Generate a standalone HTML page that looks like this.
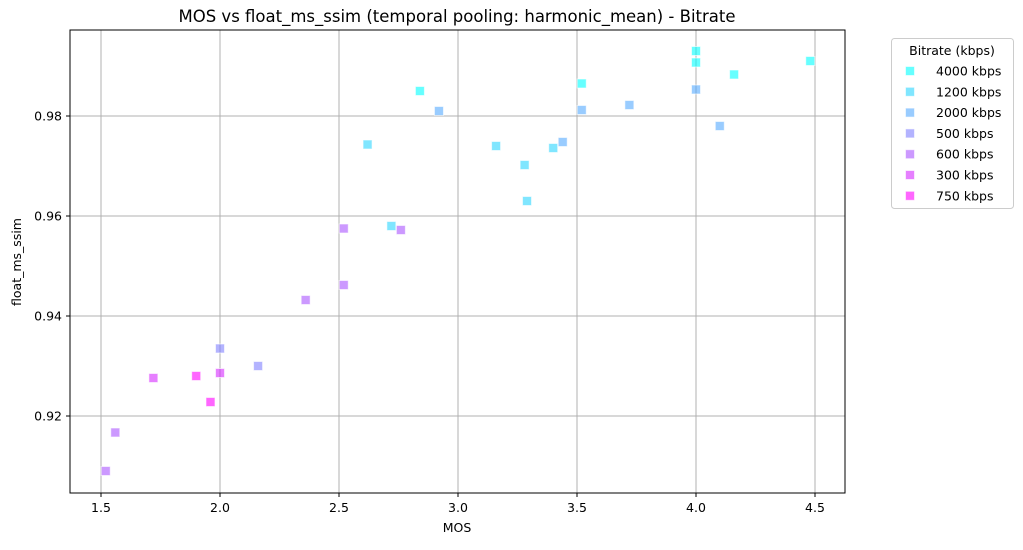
<!DOCTYPE html>
<html><head><meta charset="utf-8"><style>body{margin:0;background:#fff}svg{font-family:"DejaVu Sans","Liberation Sans",sans-serif}</style></head>
<body>
<svg id="chart" width="1023" height="545">
<text x="457" y="22" text-anchor="middle" font-size="16.5">MOS vs float_ms_ssim (temporal pooling: harmonic_mean) - Bitrate</text>
<g id="grid"></g><g id="pts"></g>
<rect x="70" y="30" width="775" height="463" fill="none" stroke="#000" stroke-width="1"/>
<g id="ticks" font-size="12.5"></g>
<text x="457" y="532" text-anchor="middle" font-size="12.5">MOS</text>
<text transform="translate(21,262) rotate(-90)" text-anchor="middle" font-size="12.5">float_ms_ssim</text>
<g id="legend"></g>
</svg>
<script>
const seriesNames=["4000 kbps","1200 kbps","2000 kbps","500 kbps","600 kbps","300 kbps","750 kbps"];
const s4000=[[2.84,0.985],[3.52,0.9865],[4.0,0.993],[4.0,0.9907],[4.16,0.9883],[4.48,0.991]];
const s1200=[[2.62,0.9743],[3.16,0.974],[3.28,0.9702],[3.29,0.963],[2.72,0.958],[3.40,0.9736]];
const s2000=[[2.92,0.981],[3.52,0.9812],[3.72,0.9822],[4.0,0.9853],[4.10,0.978],[3.44,0.9748]];
const s500=[[2.0,0.9335],[2.16,0.930]];
const s600=[[2.52,0.9575],[2.76,0.9572],[2.52,0.9462],[2.36,0.9432],[1.56,0.9167],[1.52,0.909]];
const s300=[[1.72,0.9276],[2.0,0.9286]];
const s750=[[1.90,0.928],[1.96,0.9228]];
const xTicks=[1.5,2.0,2.5,3.0,3.5,4.0,4.5];
const yTicks=[0.92,0.94,0.96,0.98];
const series=[s4000,s1200,s2000,s500,s600,s300,s750];
const NS="http://www.w3.org/2000/svg";
const X=v=>101+(v-1.5)*238, Y=v=>116-(v-0.98)*5000;
const col=i=>`rgb(${Math.round(i/6*255)},${Math.round((1-i/6)*255)},255)`;
function mk(t,a,p){const e=document.createElementNS(NS,t);for(const k in a)e.setAttribute(k,a[k]);p.appendChild(e);return e;}
const g=document.getElementById('grid'),tk=document.getElementById('ticks');
xTicks.forEach(v=>{const l=mk('line',{x1:X(v),x2:X(v),y1:30,y2:493,stroke:'#b0b0b0','stroke-width':1},g);

const m=mk('line',{x1:X(v),x2:X(v),y1:493,y2:497,stroke:'#000'},tk);
const t=mk('text',{x:X(v),y:512,'text-anchor':'middle'},tk);t.textContent=v.toFixed(1);});
yTicks.forEach(v=>{const l=mk('line',{x1:70,x2:845,y1:Y(v),y2:Y(v),stroke:'#b0b0b0','stroke-width':1},g);

const m=mk('line',{x1:66,x2:70,y1:Y(v),y2:Y(v),stroke:'#000'},tk);
const t=mk('text',{x:62,y:Y(v)+4.5,'text-anchor':'end'},tk);t.textContent=v.toFixed(2);});
const P=document.getElementById('pts');
series.forEach((s,i)=>s.forEach(d=>{const r=mk('rect',{x:X(d[0])-4.5,y:Y(d[1])-4.5,width:9,height:9,fill:col(i),'fill-opacity':0.6,stroke:'#fff','stroke-opacity':0.6,'stroke-width':1},P);
}));
const L=document.getElementById('legend');
const b=mk('rect',{x:891.5,y:38.5,width:122,height:170,rx:3,fill:'#fff',stroke:'#ccc'},L);
const lt=mk('text',{x:952,y:55,'text-anchor':'middle','font-size':12.5},L);lt.textContent='Bitrate (kbps)';
seriesNames.forEach((n,i)=>{const y=71+i*20.8;
const r=mk('rect',{x:905.5,y:y-4.5,width:9,height:9,fill:col(i),'fill-opacity':0.6,stroke:'#fff','stroke-opacity':0.6},L);
const t=mk('text',{x:936,y:y+4.5,'font-size':12.5},L);t.textContent=n;});
</script>
</body></html>
